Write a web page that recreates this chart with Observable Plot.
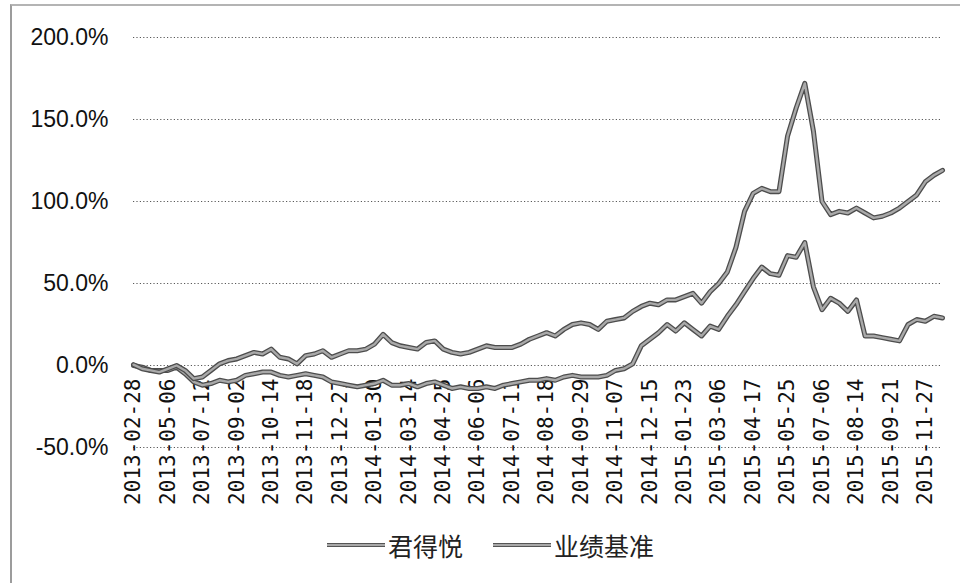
<!DOCTYPE html>
<html>
<head>
<meta charset="utf-8">
<script src="https://cdn.jsdelivr.net/npm/d3@7"></script>
<script src="https://cdn.jsdelivr.net/npm/@observablehq/plot@0.6"></script>
<style>
html, body { margin: 0; padding: 0; background: #fff; }
#wrap { position: relative; width: 960px; height: 583px; overflow: hidden; background: #fff; }
#frame { position: absolute; left: 10px; top: 4px; width: 980px; height: 620px;
  border-left: 2px solid #9c9c9c; border-top: 2px solid #b4b4b4; }
#chart { position: absolute; left: 0; top: 0; }
#legend { position: absolute; left: 327px; top: 531px; height: 28px; display: flex; align-items: center;
  font-family: "Noto Sans CJK SC", sans-serif; font-size: 25px; color: #222; }
.item { display: flex; align-items: center; margin-right: 30px; }
.swatch { width: 58px; height: 2px; background: #a8a8a8; border-top: 1px solid #555; border-bottom: 1px solid #555; margin-right: 3px; }
</style>
</head>
<body>
<div id="wrap">
  <div id="frame"></div>
  <div id="chart"></div>
  <div id="legend"></div>
</div>
<script>
// Category labels shown on the horizontal axis (every 4th sampled point)
const dateLabels = [
  "2013-02-28","2013-05-06","2013-07-12","2013-09-02","2013-10-14","2013-11-18",
  "2013-12-27","2014-01-30","2014-03-14","2014-04-25","2014-06-06","2014-07-11",
  "2014-08-18","2014-09-29","2014-11-07","2014-12-15","2015-01-23","2015-03-06",
  "2015-04-17","2015-05-25","2015-07-06","2015-08-14","2015-09-21","2015-11-27"
];
const pointsPerLabel = 4;

// 君得悦 cumulative return (%)
const fundReturn = [
  0.5, -2, -3, -4, -2, 0, -3, -8, -7, -3,
  1, 3, 4, 6, 8, 7, 10, 5, 4, 1,
  6, 7, 9, 5, 7, 9, 9, 10, 13, 19,
  14, 12, 11, 10, 14, 15, 10, 8, 7, 8,
  10, 12, 11, 11, 11, 13, 16, 18, 20, 18,
  22, 25, 26, 25, 22, 27, 28, 29, 33, 36,
  38, 37, 40, 40, 42, 44, 38, 45, 50, 57,
  72, 94, 105, 108, 106, 106, 140, 157, 172, 143,
  100, 92, 94, 93, 96, 93, 90, 91, 93, 96,
  100, 104, 112, 116, 119
];

// 业绩基准 cumulative return (%)
const benchReturn = [
  0, -1, -3, -3, -3, -1, -5, -10, -12, -11,
  -9, -10, -9, -6, -5, -4, -4, -6, -7, -6,
  -5, -6, -7, -10, -11, -12, -13, -12, -11, -9,
  -12, -12, -11, -13, -11, -10, -12, -14, -13, -14,
  -14, -13, -14, -12, -11, -10, -9, -9, -8, -9,
  -7, -6, -7, -7, -7, -6, -3, -2, 1, 12,
  16, 20, 25, 21, 26, 22, 18, 24, 22, 30,
  37, 45, 53, 60, 56, 55, 67, 66, 75, 48,
  34, 41, 38, 33, 40, 18, 18, 17, 16, 15,
  25, 28, 27, 30, 29
];

const yTicks = [-50, 0, 50, 100, 150, 200];
const seriesNames = ["君得悦", "业绩基准"];

const toRows = (vals) => vals.map((v, k) => ({ x: k / pointsPerLabel, v }));
const fundRows = toRows(fundReturn);
const benchRows = toRows(benchReturn);
const xMax = (fundReturn.length - 1) / pointsPerLabel;
const pct = (d) => d.toFixed(1) + "%";

const chart = Plot.plot({
  width: 960,
  height: 520,
  marginLeft: 133,
  marginRight: 18,
  marginTop: 37,
  marginBottom: 73,
  style: { fontFamily: "Liberation Sans, Arial, sans-serif", background: "transparent", color: "#111" },
  x: { domain: [0, xMax], axis: null },
  y: { domain: [-50, 200], axis: null },
  marks: [
    Plot.gridY(yTicks, { stroke: "#222", strokeOpacity: 0.75, strokeWidth: 1, strokeDasharray: "1.2,2.2" }),
    Plot.axisY(yTicks, { tickSize: 0, tickPadding: 25, fontSize: 23, tickFormat: pct, label: null, fill: "#111" }),
    Plot.text(dateLabels, {
      x: (d, i) => i, y: () => 0, text: (d) => d,
      rotate: -90, textAnchor: "end", dy: 13,
      fontSize: 21, fontFamily: "DejaVu Sans Mono, monospace", fill: "#111"
    }),
    Plot.line(benchRows, { x: "x", y: "v", stroke: "#4d4d4d", strokeWidth: 5, strokeLinejoin: "round" }),
    Plot.line(benchRows, { x: "x", y: "v", stroke: "#a9a9a9", strokeWidth: 2.4, strokeLinejoin: "round" }),
    Plot.line(fundRows, { x: "x", y: "v", stroke: "#4d4d4d", strokeWidth: 5, strokeLinejoin: "round" }),
    Plot.line(fundRows, { x: "x", y: "v", stroke: "#a9a9a9", strokeWidth: 2.4, strokeLinejoin: "round" })
  ]
});
document.getElementById("chart").appendChild(chart);

const legend = document.getElementById("legend");
seriesNames.forEach((name) => {
  const item = document.createElement("div");
  item.className = "item";
  const sw = document.createElement("span");
  sw.className = "swatch";
  const t = document.createElement("span");
  t.textContent = name;
  item.appendChild(sw);
  item.appendChild(t);
  legend.appendChild(item);
});
</script>
</body>
</html>
